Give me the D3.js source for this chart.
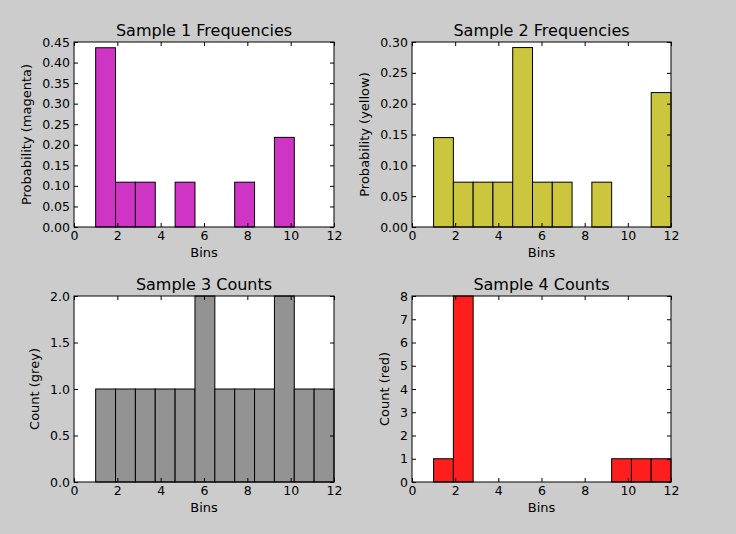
<!DOCTYPE html>
<html>
<head>
<meta charset="utf-8">
<script src="https://cdn.jsdelivr.net/npm/d3@7"></script>
<style>
  html, body { margin: 0; padding: 0; background: #cccccc; }
  svg { display: block; font-family: "DejaVu Sans", sans-serif; }
</style>
</head>
<body>
<svg id="chart" width="736" height="534"></svg>
<script>
// ---- data ----
const binEdges = [1, 1.9167, 2.8333, 3.75, 4.6667, 5.5833, 6.5, 7.4167, 8.3333, 9.25, 10.1667, 11.0833, 12];
const xTicks = [0, 2, 4, 6, 8, 10, 12];

const sample1Values = [0.436, 0.109, 0.109, 0, 0.109, 0, 0, 0.109, 0, 0.218, 0, 0];
const sample2Values = [0.145, 0.0727, 0.0727, 0.0727, 0.291, 0.0727, 0.0727, 0, 0.0727, 0, 0, 0.218];
const sample3Values = [1, 1, 1, 1, 1, 2, 1, 1, 1, 2, 1, 1];
const sample4Values = [1, 8, 0, 0, 0, 0, 0, 0, 0, 1, 1, 1];

const sample1Ticks = [0, 0.05, 0.10, 0.15, 0.20, 0.25, 0.30, 0.35, 0.40, 0.45];
const sample2Ticks = [0, 0.05, 0.10, 0.15, 0.20, 0.25, 0.30];
const sample3Ticks = [0, 0.5, 1.0, 1.5, 2.0];
const sample4Ticks = [0, 1, 2, 3, 4, 5, 6, 7, 8];

const titles = ["Sample 1 Frequencies", "Sample 2 Frequencies", "Sample 3 Counts", "Sample 4 Counts"];
const yLabels = ["Probability (magenta)", "Probability (yellow)", "Count (grey)", "Count (red)"];

// ---- layout ----
const panels = [
  { values: sample1Values, ticks: sample1Ticks, fmt: d3.format(".2f"), color: "#cf35c4", x0: 74, x1: 334, y0: 42, y1: 227 },
  { values: sample2Values, ticks: sample2Ticks, fmt: d3.format(".2f"), color: "#cbc63e", x0: 412, x1: 671, y0: 42, y1: 227 },
  { values: sample3Values, ticks: sample3Ticks, fmt: d3.format(".1f"), color: "#939393", x0: 74, x1: 334, y0: 296, y1: 482 },
  { values: sample4Values, ticks: sample4Ticks, fmt: d3.format("d"), color: "#ff1e1e", x0: 412, x1: 671, y0: 296, y1: 482 }
];

const svg = d3.select("#chart");
const FS = 12.5;
const LFS = 13;

panels.forEach((p, i) => {
  const x = d3.scaleLinear().domain([0, 12]).range([p.x0, p.x1]);
  const y = d3.scaleLinear().domain([p.ticks[0], p.ticks[p.ticks.length - 1]]).range([p.y1, p.y0]);
  const g = svg.append("g");

  // axes background
  g.append("rect").attr("x", p.x0).attr("y", p.y0)
    .attr("width", p.x1 - p.x0).attr("height", p.y1 - p.y0).attr("fill", "#ffffff");

  // bars
  const bins = p.values.map((v, k) => ({ v, a: binEdges[k], b: binEdges[k + 1] })).filter(d => d.v > 0);
  g.selectAll("rect.bar").data(bins).enter().append("rect").attr("class", "bar")
    .attr("x", d => x(d.a)).attr("y", d => y(d.v))
    .attr("width", d => x(d.b) - x(d.a)).attr("height", d => y(0) - y(d.v))
    .attr("fill", p.color).attr("stroke", "#000").attr("stroke-width", 1);

  // ticks (inward, all four sides) using d3 axes
  const tl = 4;
  const axB = d3.axisBottom(x).tickValues(xTicks).tickSizeInner(-tl).tickSizeOuter(0).tickFormat(d3.format("d")).tickPadding(4.5);
  const axT = d3.axisTop(x).tickValues(xTicks).tickSizeInner(-tl).tickSizeOuter(0).tickFormat("");
  const axL = d3.axisLeft(y).tickValues(p.ticks).tickSizeInner(-tl).tickSizeOuter(0).tickFormat(p.fmt).tickPadding(4);
  const axR = d3.axisRight(y).tickValues(p.ticks).tickSizeInner(-tl).tickSizeOuter(0).tickFormat("");

  const gb = g.append("g").attr("transform", `translate(0,${p.y1})`).call(axB);
  const gt = g.append("g").attr("transform", `translate(0,${p.y0})`).call(axT);
  const gl = g.append("g").attr("transform", `translate(${p.x0},0)`).call(axL);
  const gr = g.append("g").attr("transform", `translate(${p.x1},0)`).call(axR);
  [gb, gt, gl, gr].forEach(a => {
    a.attr("font-size", FS).attr("font-family", "DejaVu Sans");
    a.select(".domain").remove();
    a.selectAll("line").attr("stroke", "#000").attr("stroke-width", 1);
    a.selectAll("text").attr("fill", "#000");
  });

  // frame
  g.append("rect").attr("x", p.x0).attr("y", p.y0)
    .attr("width", p.x1 - p.x0).attr("height", p.y1 - p.y0)
    .attr("fill", "none").attr("stroke", "#000").attr("stroke-width", 1);

  // title
  g.append("text").attr("x", (p.x0 + p.x1) / 2).attr("y", p.y0 - 6)
    .attr("text-anchor", "middle").attr("font-size", 16).attr("fill", "#000").text(titles[i]);

  // x label
  g.append("text").attr("x", (p.x0 + p.x1) / 2).attr("y", p.y1 + 30)
    .attr("text-anchor", "middle").attr("font-size", LFS).attr("fill", "#000").text("Bins");

  // y label
  const bb = gl.node().getBBox();
  const lx = p.x0 + bb.x - 11;
  g.append("text").attr("transform", `translate(${lx},${(p.y0 + p.y1) / 2}) rotate(-90)`)
    .attr("text-anchor", "middle").attr("font-size", LFS).attr("fill", "#000").text(yLabels[i]);
});
</script>
</body>
</html>
